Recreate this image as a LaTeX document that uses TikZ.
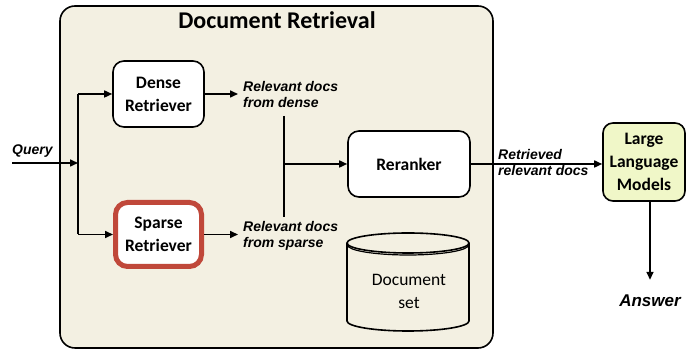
\documentclass[tikz,border=0pt]{standalone}
\usepackage{fontspec}
\setmainfont{Carlito}
\newfontfamily\labfont{Liberation Sans}
\usetikzlibrary{arrows.meta,calc}
\definecolor{panel}{RGB}{243,240,226}
\definecolor{llmfill}{RGB}{240,247,200}
\definecolor{hired}{RGB}{192,72,58}
\begin{document}
\begin{tikzpicture}[x=1pt,y=1pt,
  conn/.style={line width=1.6pt},
  arr/.style={conn,-{Triangle[length=8pt,width=7pt]}},
  boxtext/.style={font=\fontsize{17.5}{23}\selectfont\bfseries, align=center},
  rbox/.style={draw, line width=1.6pt, rounded corners=11pt, fill=white, boxtext},
  lab/.style={font=\labfont\fontsize{14}{16}\selectfont\bfseries\itshape, align=left, inner sep=0pt}
]
\useasboundingbox (0,0) rectangle (686,350);

% retrieval panel
\draw[line width=1.6pt, fill=panel, rounded corners=15pt] (60,2) rectangle (493,344);
\node[anchor=base, font=\fontsize{24}{28}\selectfont\bfseries] (title) at (277,321) {Document Retrieval};

% retrievers
\node[rbox, minimum width=91pt, minimum height=66pt] (dense) at (158.5,256) {Dense\\Retriever};
\node[rbox, draw=hired, line width=5pt, rounded corners=12pt, minimum width=86pt, minimum height=64pt] (sparse) at (158.5,115.5) {Sparse\\Retriever};

% query input
\node[lab, anchor=base west] (query) at (12,195) {Query};
\coordinate (qin) at (12,187);
\coordinate (split) at (78,187);
\draw[arr] (qin) -- (split);
\draw[conn] (split |- dense.west) -- (split |- sparse.west);
\draw[arr] (split |- dense.west) -- (dense.west);
\draw[arr] (split |- sparse.west) -- (sparse.west);

% retriever outputs
\node[lab, anchor=west] (labD) at (243,255) {Relevant docs\\from dense};
\node[lab, anchor=west] (labS) at (243,114) {Relevant docs\\from sparse};
\draw[arr] (dense.east) -- ($(dense.east -| labD.west)+(-5,0)$);
\draw[arr] (sparse.east) -- ($(sparse.east -| labS.west)+(-5,0)$);

% reranker
\node[rbox, minimum width=122pt, minimum height=66pt] (rerank) at (409,186) {Reranker};
\coordinate (mTop) at (284,234);
\coordinate (mBot) at (284,133);
\draw[conn] (mTop) -- (mBot);
\draw[arr] (mTop |- rerank.west) -- (rerank.west);

% document store
\draw[line width=1.6pt] (347,107) -- (347,29)
  arc[start angle=180, end angle=360, x radius=61pt, y radius=10pt] -- (469,107);
\draw[line width=1.6pt] (408,107) ellipse [x radius=61pt, y radius=10pt];
\draw[line width=1.2pt] (347.5,105) arc[start angle=180, end angle=360, x radius=60.5pt, y radius=10pt];
\node[font=\fontsize{17.5}{23}\selectfont, align=center] (docset) at (409,59) {Document\\set};

% language model
\node[rbox, fill=llmfill, minimum width=82pt, minimum height=78pt, rounded corners=10pt] (llm) at (644,188) {Large\\Language\\Models};
\draw[arr] (rerank.east) -- (rerank.east -| llm.west);
\node[lab, anchor=west] (labR) at (498,187) {Retrieved\\relevant docs};

% answer
\node[anchor=base, inner sep=0pt, text height=27pt, font=\labfont\fontsize{17}{20}\selectfont\bfseries\itshape] (answer) at (650,43) {Answer};
\draw[arr] (llm.south -| answer.north) -- (answer.north);
\end{tikzpicture}
\end{document}
